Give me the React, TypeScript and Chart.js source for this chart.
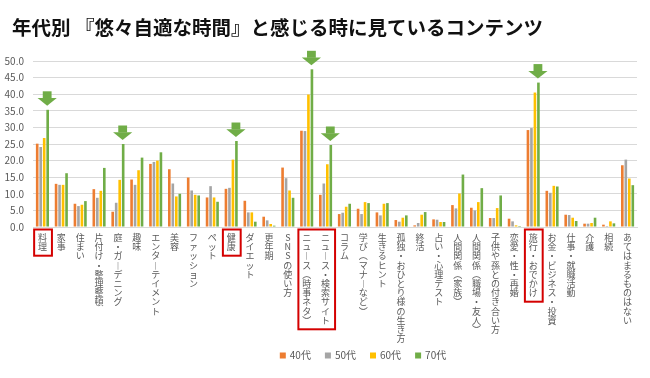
import React, { useEffect, useRef } from "react";
import { Chart, registerables } from "chart.js";

Chart.register(...registerables);

const FONT = "'Noto Sans CJK JP', 'Noto Sans', sans-serif";

const chartTitle = "年代別 『悠々自適な時間』と感じる時に見ているコンテンツ";

const categories = [
  "料理",
  "家事",
  "住まい",
  "片付け・整理整頓",
  "庭・ガーデニング",
  "趣味",
  "エンターテイメント",
  "美容",
  "ファッション",
  "ペット",
  "健康",
  "ダイエット",
  "更年期",
  "SNSの使い方",
  "ニュース（時事ネタ）",
  "ニュース・検索サイト",
  "コラム",
  "学び（マナーなど）",
  "生きるヒント",
  "孤独・おひとり様の生き方",
  "終活",
  "占い・心理テスト",
  "人間関係（家族）",
  "人間関係（職場・友人）",
  "子供や孫との付き合い方",
  "恋愛・性・再婚",
  "旅行・おでかけ",
  "お金・ビジネス・投資",
  "仕事・就職活動",
  "介護",
  "相続",
  "あてはまるものはない",
];

const seriesNames = ["40代", "50代", "60代", "70代"];

const s40 = [25.1, 13.0, 7.0, 11.4, 4.6, 14.3, 19.0, 17.4, 14.9, 8.9, 11.5, 7.9, 3.1, 17.9, 29.0, 9.7, 3.9, 5.5, 4.4, 2.1, 0.5, 2.3, 6.6, 5.8, 2.7, 2.5, 29.2, 10.9, 3.7, 1.0, 0.7, 18.6];
const s50 = [24.1, 12.7, 6.3, 8.8, 7.3, 12.7, 19.6, 13.1, 11.0, 12.3, 11.8, 4.4, 2.0, 14.7, 28.9, 13.1, 4.3, 3.9, 3.5, 1.6, 1.2, 2.2, 5.6, 5.0, 2.7, 1.7, 29.8, 10.3, 3.6, 1.0, 0.3, 20.3];
const s60 = [26.8, 12.7, 6.7, 10.9, 14.2, 17.1, 20.0, 9.2, 9.7, 8.9, 20.3, 4.4, 0.9, 11.0, 39.9, 18.9, 6.1, 7.5, 7.0, 2.8, 3.7, 1.5, 10.1, 7.5, 5.7, 0.5, 40.5, 12.4, 2.8, 1.2, 1.7, 14.6];
const s70 = [35.3, 16.2, 7.8, 17.8, 25.0, 20.9, 22.5, 10.0, 9.5, 7.6, 25.9, 1.6, 0.4, 8.8, 47.5, 24.7, 7.0, 7.2, 7.2, 3.5, 4.5, 1.5, 15.8, 11.7, 9.5, 0.3, 43.5, 12.2, 1.8, 2.8, 1.1, 12.6];

const seriesColors = ["#ED7D31", "#A5A5A5", "#FFC000", "#70AD47"];

const yMin = 0;
const yMax = 50;
const yStep = 5;

const arrowCategories = ["料理", "庭・ガーデニング", "健康", "ニュース（時事ネタ）", "ニュース・検索サイト", "旅行・おでかけ"];
const boxedGroups = [["料理"], ["健康"], ["ニュース（時事ネタ）", "ニュース・検索サイト"], ["旅行・おでかけ"]];

const verticalMap: Record<string, string> = { "（": "︵", "）": "︶", "ー": "︱" };
const toVertical = (s: string) => Array.from(s).map((c) => verticalMap[c] || c);

const LINE_H = 9.2;

export default function App() {
  const ref = useRef<HTMLCanvasElement>(null);

  useEffect(() => {
    document.body.style.margin = "0";
    const canvas = ref.current!;

    const overlay = {
      id: "overlay",
      afterDatasetsDraw(chart: any) {
        const ctx = chart.ctx;
        const meta = chart.getDatasetMeta(3);
        ctx.save();
        ctx.fillStyle = "#70AD47";
        arrowCategories.forEach((name) => {
          const i = categories.indexOf(name);
          const bar = meta.data[i];
          const cx = bar.x - 0.5;
          const tip = bar.y - 4;
          ctx.fillRect(cx - 4.4, tip - 14.5, 8.8, 7);
          ctx.beginPath();
          ctx.moveTo(cx - 9.6, tip - 7.7);
          ctx.lineTo(cx + 9.6, tip - 7.7);
          ctx.lineTo(cx, tip);
          ctx.closePath();
          ctx.fill();
        });
        ctx.restore();
      },
      afterDraw(chart: any) {
        const ctx = chart.ctx;
        const xs = chart.scales.x;
        const bottom = chart.chartArea.bottom;
        ctx.save();
        // title
        ctx.fillStyle = "#111";
        ctx.font = `bold 19.5px ${FONT}`;
        ctx.textBaseline = "middle";
        ctx.textAlign = "left";
        ctx.fillText(chartTitle, 12, 27.5);
        // red boxes
        ctx.strokeStyle = "#D40000";
        ctx.lineWidth = 2;
        boxedGroups.forEach((g) => {
          const idx = g.map((n) => categories.indexOf(n));
          const x1 = xs.getPixelForValue(Math.min(...idx)) - 8.3;
          const x2 = xs.getPixelForValue(Math.max(...idx)) + 9.5;
          const n = Math.max(...g.map((s) => Array.from(s).length));
          const y1 = bottom + 2.5;
          const y2 = bottom + 11 + (n - 1) * LINE_H + 8.5;
          ctx.strokeRect(x1, y1, x2 - x1, y2 - y1);
        });
        // legend
        ctx.font = `10px ${FONT}`;
        const box = 6;
        const gapText = 4;
        const gapItem = 14;
        const widths = seriesNames.map((s) => box + gapText + ctx.measureText(s).width);
        const total = widths.reduce((a, b) => a + b, 0) + gapItem * (seriesNames.length - 1);
        let x = 363 - total / 2;
        const ly = 355.5;
        seriesNames.forEach((s, i) => {
          ctx.fillStyle = seriesColors[i];
          ctx.fillRect(x, ly - box / 2, box, box);
          ctx.fillStyle = "#595959";
          ctx.textBaseline = "middle";
          ctx.fillText(s, x + box + gapText, ly);
          x += widths[i] + gapItem;
        });
        ctx.restore();
      },
    };

    const chart = new Chart(canvas, {
      type: "bar",
      data: {
        labels: categories.map(toVertical),
        datasets: [s40, s50, s60, s70].map((d, i) => ({
          label: seriesNames[i],
          data: d,
          backgroundColor: seriesColors[i],
          borderWidth: 0,
          categoryPercentage: 0.74,
          barPercentage: 0.75,
        })),
      },
      options: {
        responsive: false,
        animation: false,
        events: [],
        layout: { padding: { top: 61, left: 0, right: 13, bottom: 31 } },
        plugins: {
          legend: { display: false },
          title: { display: false },
          tooltip: { enabled: false },
        },
        scales: {
          x: {
            grid: { display: false, drawTicks: false },
            border: { display: true, color: "#D9D9D9" },
            ticks: {
              autoSkip: false,
              maxRotation: 0,
              minRotation: 0,
              padding: 6,
              color: "#595959",
              font: { family: FONT, size: 9, lineHeight: LINE_H / 9 },
            },
            afterFit: (s: any) => {
              s.height = 120;
            },
          },
          y: {
            min: yMin,
            max: yMax,
            ticks: {
              stepSize: yStep,
              padding: 9,
              color: "#595959",
              font: { family: FONT, size: 10 },
              callback: (v: any) => Number(v).toFixed(1),
            },
            grid: { color: "#D9D9D9", drawTicks: false },
            border: { display: false },
            afterFit: (s: any) => {
              s.width = 33;
            },
          },
        },
      },
      plugins: [overlay],
    });
    return () => chart.destroy();
  }, []);

  return (
    <div style={{ width: 650, height: 378, background: "#fff" }}>
      <canvas ref={ref} width={650} height={378} style={{ display: "block" }} />
    </div>
  );
}
